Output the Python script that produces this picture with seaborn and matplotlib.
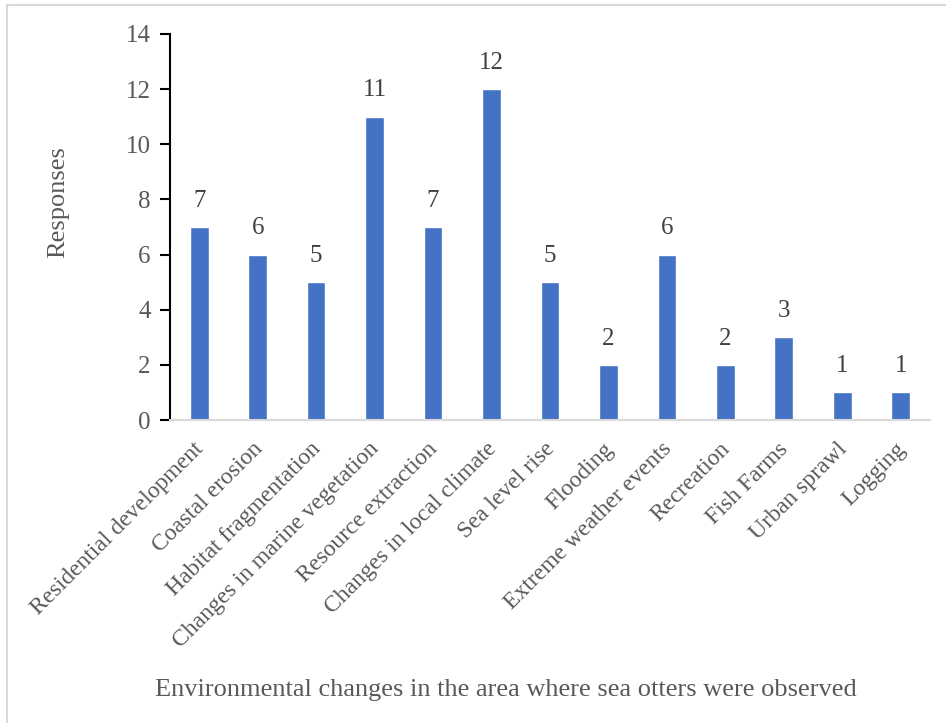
import matplotlib
matplotlib.use("Agg")
import matplotlib.pyplot as plt
import matplotlib.transforms as mtransforms
import seaborn as sns
import pandas as pd
from matplotlib.patches import Rectangle

categories = [
    "Residential development", "Coastal erosion", "Habitat fragmentation",
    "Changes in marine vegetation", "Resource extraction",
    "Changes in local climate", "Sea level rise", "Flooding",
    "Extreme weather events", "Recreation", "Fish Farms", "Urban sprawl",
    "Logging",
]
responses = [7, 6, 5, 11, 7, 12, 5, 2, 6, 2, 3, 1, 1]
y_ticks = [0, 2, 4, 6, 8, 10, 12, 14]

sns.set_theme(style="white")
plt.rcParams["font.family"] = ["Liberation Serif", "DejaVu Serif"]

text_color = "#595959"
bar_color = "#4472C4"

df = pd.DataFrame({"category": categories, "responses": responses})

fig = plt.figure(figsize=(9.46, 7.23), dpi=100)
ax = fig.add_axes([0.1797, 0.419, 0.8033, 0.534])

sns.barplot(data=df, x="category", y="responses", color=bar_color,
            width=0.32, saturation=1, ax=ax)

ax.set_xlim(-0.5, len(categories) - 0.5)
ax.set_ylim(0, 14)
ax.set_yticks(y_ticks)
ax.set_yticklabels([str(t) for t in y_ticks], fontsize=18, color=text_color)

ax.set_xticks(range(len(categories)))
ax.set_xticklabels(categories, rotation=45, ha="right",
                   rotation_mode="anchor", fontsize=17, color=text_color)
ax.tick_params(axis="x", length=0, pad=9)
ax.tick_params(axis="y", length=7, width=1.5, color="black",
               direction="out", left=True, pad=7)

# nudge the slanted category labels slightly down and to the left
shift = mtransforms.ScaledTranslation(-6 / 100, -6 / 100, fig.dpi_scale_trans)
for lbl in ax.get_xticklabels():
    lbl.set_transform(lbl.get_transform() + shift)

for container in ax.containers:
    ax.bar_label(container, labels=[str(v) for v in responses],
                 padding=11, fontsize=18, color="#404040")

for side in ("top", "right"):
    ax.spines[side].set_visible(False)
ax.spines["left"].set_color("black")
ax.spines["left"].set_linewidth(1.5)
ax.spines["bottom"].set_color("#D9D9D9")
ax.spines["bottom"].set_linewidth(1.5)

ax.set_ylabel("Responses", fontsize=19, color=text_color)
ax.yaxis.set_label_coords(-0.133, 0.565)
ax.set_xlabel("")
fig.text(0.535, 0.046,
         "Environmental changes in the area where sea otters were observed",
         ha="center", va="center", fontsize=19, color=text_color)

# Chart-area frame, left and top edges
fig.patches.append(Rectangle((0.0079, -0.05), 1.2, 1.043,
                             transform=fig.transFigure, fill=False,
                             edgecolor="#D9D9D9", linewidth=1.5))

fig.savefig("out.png", dpi=100, facecolor="white")
